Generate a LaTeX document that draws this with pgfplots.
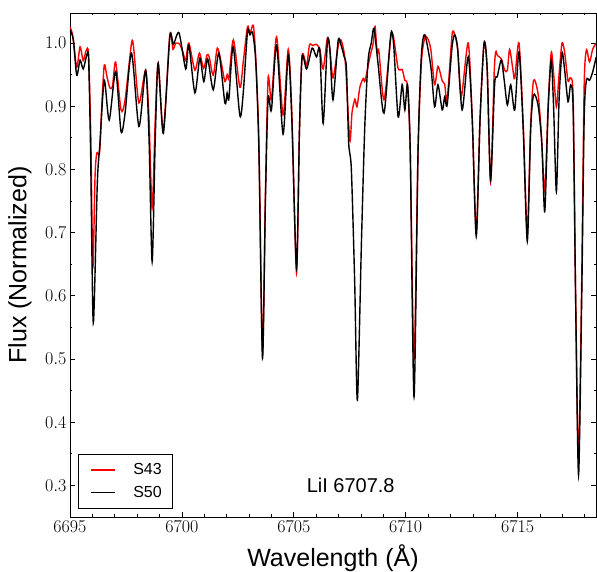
\RequirePackage{fix-cm}
\documentclass[border=0pt]{standalone}
\usepackage{fontspec}
\setmainfont{Liberation Sans}
\usepackage{pgfplots}
\usepackage{pgfplotstable}
\pgfplotsset{compat=1.18}

% S43 spectrum (red)
\pgfplotstableread{
x y
6695.00 1.025
6695.12 1.012
6695.30 0.962
6695.45 0.994
6695.59 0.972
6695.72 0.988
6695.83 0.982
6695.93 0.850
6696.02 0.644
6696.12 0.790
6696.20 0.826
6696.32 0.826
6696.42 0.900
6696.53 0.965
6696.65 0.947
6696.78 0.929
6696.90 0.932
6697.04 0.970
6697.28 0.894
6697.46 0.910
6697.75 1.000
6697.85 0.990
6698.08 0.905
6698.38 0.957
6698.53 0.880
6698.67 0.739
6698.81 0.880
6698.94 0.968
6699.17 0.862
6699.46 1.013
6699.60 0.990
6699.73 1.000
6699.90 0.998
6700.05 0.985
6700.17 0.972
6700.31 1.000
6700.58 0.957
6700.78 0.984
6700.97 0.960
6701.12 0.981
6701.22 0.978
6701.40 0.949
6701.58 0.992
6701.75 0.970
6701.92 0.939
6702.02 0.950
6702.10 0.945
6702.30 1.005
6702.59 0.930
6702.74 0.970
6702.93 1.026
6703.04 1.015
6703.19 1.028
6703.30 0.975
6703.44 0.840
6703.60 0.510
6703.73 0.760
6703.85 0.944
6704.00 0.910
6704.23 1.010
6704.52 0.886
6704.75 0.990
6704.91 0.890
6705.12 0.636
6705.25 0.860
6705.37 0.980
6705.57 0.965
6705.70 0.997
6705.85 0.996
6706.00 0.998
6706.16 0.990
6706.31 0.959
6706.50 1.008
6706.61 0.990
6706.75 0.945
6706.98 0.995
6707.10 1.005
6707.22 0.990
6707.32 0.960
6707.50 0.846
6707.60 0.890
6707.73 0.911
6707.82 0.899
6707.95 0.930
6708.10 0.944
6708.18 0.940
6708.40 0.978
6708.55 1.000
6708.63 1.026
6708.72 0.985
6708.80 0.987
6709.03 0.910
6709.33 1.008
6709.45 1.010
6709.66 0.960
6709.84 0.958
6709.96 0.941
6710.08 0.931
6710.20 0.830
6710.37 0.498
6710.55 0.830
6710.70 0.970
6710.85 1.008
6710.97 1.008
6711.12 0.990
6711.29 0.934
6711.44 0.963
6711.63 0.940
6711.74 0.935
6711.85 0.910
6712.07 1.013
6712.19 1.013
6712.32 0.990
6712.48 0.915
6712.79 1.000
6712.97 0.880
6713.15 0.700
6713.32 0.880
6713.50 1.000
6713.64 0.957
6713.79 0.780
6713.95 0.952
6714.02 0.986
6714.10 0.980
6714.27 0.975
6714.42 0.957
6714.54 0.957
6714.64 0.990
6714.78 0.960
6714.87 0.944
6715.06 1.000
6715.25 0.870
6715.43 0.700
6715.58 0.870
6715.71 0.941
6715.91 0.920
6716.05 0.860
6716.21 0.767
6716.36 0.900
6716.50 0.985
6716.61 0.950
6716.73 0.899
6716.85 0.950
6716.98 1.000
6717.10 0.985
6717.25 0.940
6717.37 0.945
6717.48 0.910
6717.59 0.600
6717.72 0.340
6717.86 0.620
6717.97 0.930
6718.07 0.989
6718.21 0.970
6718.35 0.990
6718.51 1.000
}\sfortythree

% S50 spectrum (black)
\pgfplotstableread{
x y
6695.00 1.021
6695.15 1.005
6695.30 0.949
6695.45 0.973
6695.59 0.959
6695.75 0.981
6695.83 0.976
6695.92 0.830
6696.04 0.557
6696.22 0.778
6696.34 0.842
6696.53 0.941
6696.75 0.878
6697.04 0.955
6697.28 0.860
6697.46 0.889
6697.75 0.984
6698.08 0.868
6698.38 0.957
6698.53 0.850
6698.67 0.654
6698.81 0.850
6698.94 0.968
6699.17 0.857
6699.46 1.010
6699.62 0.998
6699.87 1.016
6700.17 0.959
6700.31 0.997
6700.58 0.921
6700.80 0.976
6700.98 0.939
6701.15 0.975
6701.40 0.926
6701.65 0.984
6701.92 0.905
6702.02 0.921
6702.10 0.912
6702.29 0.994
6702.59 0.885
6702.74 0.921
6702.93 1.018
6703.04 1.013
6703.16 1.016
6703.30 0.970
6703.44 0.830
6703.60 0.501
6703.73 0.750
6703.85 0.912
6704.00 0.894
6704.23 0.997
6704.52 0.856
6704.75 0.981
6704.91 0.880
6705.12 0.644
6705.25 0.860
6705.37 0.978
6705.57 0.959
6705.82 0.992
6706.01 0.978
6706.16 0.989
6706.31 0.873
6706.50 1.002
6706.61 0.990
6706.75 0.910
6706.98 1.004
6707.13 0.994
6707.25 0.978
6707.35 0.960
6707.45 0.842
6707.57 0.800
6707.72 0.620
6707.84 0.435
6708.02 0.684
6708.17 0.868
6708.32 0.973
6708.46 1.000
6708.58 1.023
6708.76 0.968
6709.03 0.889
6709.33 1.013
6709.46 0.997
6709.66 0.883
6709.84 0.934
6709.96 0.894
6710.08 0.934
6710.20 0.830
6710.37 0.440
6710.55 0.830
6710.70 0.981
6710.85 1.013
6711.12 0.963
6711.29 0.899
6711.44 0.934
6711.63 0.894
6711.74 0.915
6711.85 0.902
6712.07 0.994
6712.19 1.013
6712.32 0.990
6712.52 0.894
6712.79 0.978
6712.97 0.880
6713.15 0.694
6713.32 0.880
6713.50 1.000
6713.64 0.957
6713.79 0.783
6713.97 0.934
6714.09 0.947
6714.27 0.973
6714.40 0.941
6714.54 0.902
6714.69 0.934
6714.87 0.894
6715.06 0.986
6715.25 0.862
6715.43 0.686
6715.58 0.862
6715.71 0.918
6715.91 0.902
6716.08 0.841
6716.21 0.733
6716.36 0.894
6716.50 0.973
6716.61 0.894
6716.73 0.765
6716.85 0.910
6716.98 0.984
6717.10 0.957
6717.25 0.907
6717.37 0.934
6717.48 0.894
6717.59 0.593
6717.72 0.316
6717.86 0.593
6717.97 0.878
6718.07 0.941
6718.21 0.941
6718.35 0.954
6718.51 0.978
}\sfifty

\begin{document}
\begin{tikzpicture}
\begin{axis}[
        at={(0,0)}, anchor=south west,
        scale only axis,
        width=526pt, height=504pt,
        xmin=6695, xmax=6718.5,
        ymin=0.25, ymax=1.0475,
        xtick={6695,6700,6705,6710,6715},
        minor xtick={6696,6697,...,6718},
        ytick={0.3,0.4,0.5,0.6,0.7,0.8,0.9,1.0},
        minor ytick={0.35,0.45,0.55,0.65,0.75,0.85,0.95},
        tick align=inside,
        xtick pos=both, ytick pos=both,
        major tick length=5pt, minor tick length=2.5pt,
        every tick/.style={black, line width=0.7pt},
        axis line style={line width=0.9pt},
        scaled x ticks=false,
        xticklabel style={/pgf/number format/.cd, 1000 sep={}, fixed},
        yticklabel style={/pgf/number format/.cd, fixed, fixed zerofill, precision=1},
        tick label style={font=\fontsize{18}{21}\selectfont},
        xlabel={Wavelength (Å)},
        ylabel={Flux (Normalized)},
        label style={font=\fontsize{25}{30}\selectfont},
        xlabel style={at={(axis description cs:0.5,-0.081)}, anchor=center},
        ylabel style={at={(axis description cs:-0.095,0.5)}, anchor=center},
        legend image code/.code={\draw[#1, line width=1.4pt] (0pt,0pt) -- (24pt,0pt);},
        legend style={
            at={(axis description cs:0,0)}, anchor=south west,
            xshift=8.5pt, yshift=8.5pt,
            draw=black, line width=0.8pt,
            font=\fontsize{16}{19}\selectfont,
            inner xsep=11pt, inner ysep=9pt,
            row sep=10pt, column sep=18pt,
            nodes={inner sep=0pt},
            cells={anchor=west}
        },
    ]
    \addplot[red, line width=1.4pt, smooth, tension=0.45] table {\sfortythree};
    \addlegendentry{S43}
    \addplot[black, line width=1.4pt, smooth, tension=0.45] table {\sfifty};
    \addlegendentry{S50}
    \node[font=\fontsize{20}{24}\selectfont] at (axis cs:6707.54,0.3) {LiI 6707.8};
\end{axis}
\pgfresetboundingbox
\path (-70pt,-55pt) rectangle (527pt,517pt);
\end{tikzpicture}
\end{document}
